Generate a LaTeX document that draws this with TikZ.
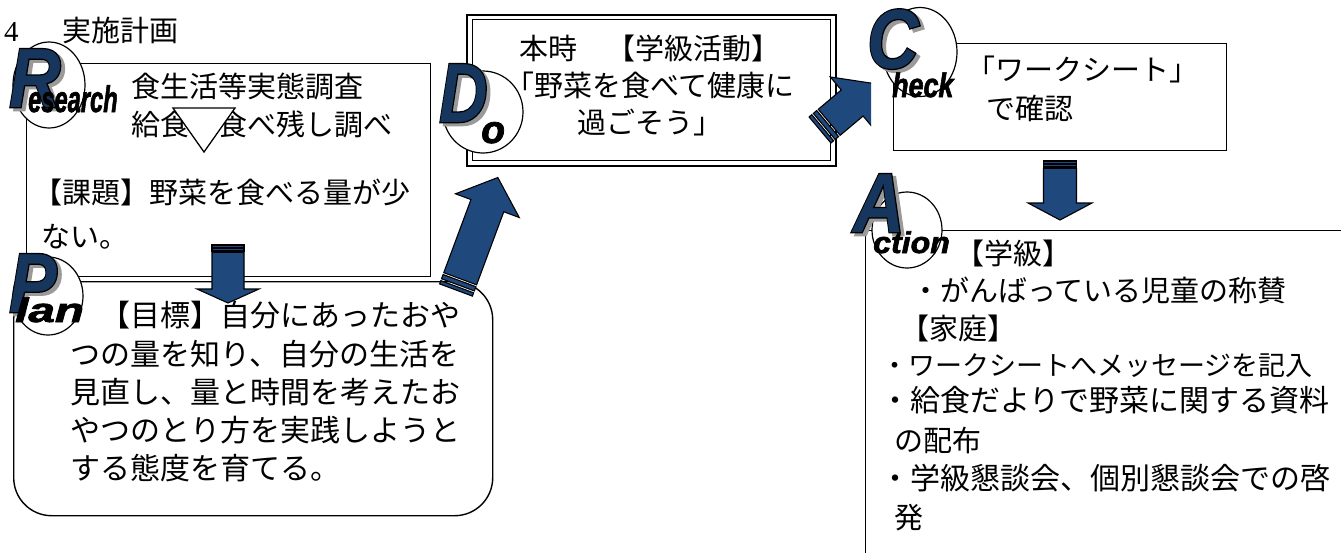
\documentclass[tikz,border=0pt]{standalone}
\usepackage{fontspec}
\usepackage{graphicx}
\usetikzlibrary{shapes.geometric}
\newfontfamily\jp{Noto Sans CJK JP}
\newfontfamily\digitserif{Liberation Serif}
\newfontfamily\latinbold{Liberation Sans}
\newfontfamily\latinstroke{Liberation Sans}[FakeBold=3]
\newfontfamily\latinheavy{Liberation Sans}[FakeBold=2]
\definecolor{arrowblue}{HTML}{1F497D}
\definecolor{letterblue}{HTML}{17365D}
\definecolor{shadowgray}{HTML}{9A9A9A}
\newcommand\pdcaletter[1]{%
  \makebox[0pt][l]{\hspace{4.5pt}\raisebox{-3pt}{\color{shadowgray}\latinstroke\bfseries\itshape #1}}%
  \makebox[0pt][l]{\color{black}\latinstroke\bfseries\itshape #1}%
  {\color{letterblue}\latinbold\bfseries\itshape #1}}
\newcommand\pdcaword[1]{{\color{black}\latinheavy\bfseries\itshape #1}}
% tail x, tail y, angle, length, head length, shaft half width, head half width, stripe scale
\newcommand\stripedarrow[8]{%
  \begin{scope}[shift={(#1,#2)},rotate=#3]
    \path[arrowpart] (0,-#6) rectangle (3.5*#8,#6);
    \path[arrowpart] (5.5*#8,-#6) rectangle (10*#8,#6);
    \path[arrowpart] (12*#8,-#6) -- (#4-#5,-#6) -- (#4-#5,-#7) -- (#4,0)
      -- (#4-#5,#7) -- (#4-#5,#6) -- (12*#8,#6) -- cycle;
  \end{scope}}
\tikzset{
  box/.style={draw=black, line width=1.4pt, fill=white, inner sep=0pt, anchor=north west},
  badge/.style={ellipse, draw=black, line width=1.2pt, fill=white, inner sep=0pt},
  arrowpart/.style={draw=black, line width=1.1pt, fill=arrowblue, line join=miter},
  jptext/.style={inner sep=0pt, anchor=base west, font=\jp\fontsize{29}{35}\selectfont},
  jpbig/.style={jptext, font=\jp\fontsize{30}{36}\selectfont},
  jpsmall/.style={jptext, font=\jp\fontsize{27}{32}\selectfont},
  jpcenter/.style={inner sep=0pt, anchor=base, font=\jp\fontsize{29}{35}\selectfont},
  bigletter/.style={inner sep=0pt, anchor=base west, font=\fontsize{84}{84}\selectfont},
  wordlabel/.style={inner sep=0pt, anchor=base west}
}
\begin{document}
\begin{tikzpicture}[x=1pt,y=-1pt]
\useasboundingbox (0,0) rectangle (1341,552);
\clip (0,0) rectangle (1341,552);
\fill[white] (0,0) rectangle (1341,552);

% boxes
\node[box, minimum width=404pt, minimum height=213pt] (rbox) at (26,63) {};
\node[box, rounded corners=38pt, minimum width=479pt, minimum height=234pt] (planbox) at (13,281) {};
\node[box, line width=1.8pt, minimum width=369pt, minimum height=151pt] (doouter) at (466,14) {};
\node[box, line width=1.2pt, minimum width=358pt, minimum height=141pt] (doinner) at (472,19) {};
\node[box, minimum width=333pt, minimum height=107pt] (checkbox) at (893,43) {};
\node[box, minimum width=500pt, minimum height=360pt] (actionbox) at (865,230) {};

% title
\node[jptext] (title) at (4,41) {{\digitserif 4}\hspace{44pt}実施計画};

% Research text
\node[jptext] (r1) at (131,97.5) {食生活等実態調査};
\node[jptext] (r2) at (131,135) {給食　食べ残し調べ};
\node[jptext] (r3) at (33,203.5) {【課題】野菜を食べる量が少};
\node[jptext] (r4) at (41,247) {ない。};
\draw[line width=1.3pt, fill=white] (173,108) -- (235,108) -- (204,152) -- cycle;

% Plan text
\node[jpbig] (p1) at (70,326) {　【目標】自分にあったおや};
\node[jpbig] (p2) at (70,365) {つの量を知り、自分の生活を};
\node[jpbig] (p3) at (70,403) {見直し、量と時間を考えたお};
\node[jpbig] (p4) at (70,441) {やつのとり方を実践しようと};
\node[jpbig] (p5) at (70,479) {する態度を育てる。};

% Do text
\node[jpcenter] (d1) at (650,59) {本時　【学級活動】};
\node[jpcenter] (d2) at (650,96) {「野菜を食べて健康に};
\node[jpcenter] (d3) at (650,133) {過ごそう」};

% Check text
\node[jptext] (c1) at (966,80) {「ワークシート」};
\node[jptext] (c2) at (986,119) {で確認};

% Action text
\node[jptext] (a1) at (955,264) {【学級】};
\node[jptext] (a2) at (911,301) {・がんばっている児童の称賛};
\node[jptext] (a3) at (900,339) {【家庭】};
\node[jpsmall] (a4) at (881,375) {・ワークシートへメッセージを記入};
\node[jpbig] (a5) at (880,411) {・給食だよりで野菜に関する資料};
\node[jptext] (a6) at (894,451) {の配布};
\node[jpbig] (a7) at (880,489) {・学級懇談会、個別懇談会での啓};
\node[jptext] (a8) at (894,528) {発};

% block arrows
\stripedarrow{228}{245}{-90}{58}{14}{16}{31}{0.6}
\stripedarrow{456}{290}{69.6}{120}{30}{17.5}{34}{1}
\begin{scope}
  \clip (0,0) rectangle (871,552);
  \stripedarrow{820}{130}{40}{72}{30}{17}{34}{1}
\end{scope}
\stripedarrow{1060}{161}{-90}{59}{17}{16.5}{32}{0.6}

% badges
\node[badge, minimum width=72pt, minimum height=86pt] (rbadge) at (49,85) {};
\node[badge, minimum width=70pt, minimum height=78pt] (pbadge) at (48,296) {};
\node[badge, minimum width=80pt, minimum height=82pt] (dbadge) at (483,112) {};
\node[badge, minimum width=74pt, minimum height=89pt] (cbadge) at (920,52) {};
\node[badge, minimum width=70pt, minimum height=76pt] (abadge) at (907,230) {};

% letters
\node[bigletter] (rletter) at (9,107) {\scalebox{0.85}[1]{\pdcaletter{R}}};
\node[wordlabel, font=\fontsize{37}{37}\selectfont] (rword) at (28,112) {\scalebox{0.64}[1]{\pdcaword{esearch}}};
\node[bigletter] (pletter) at (9,312) {\scalebox{0.85}[1]{\pdcaletter{P}}};
\node[wordlabel, font=\fontsize{34}{34}\selectfont] (pword) at (15,322) {\scalebox{1.4}[1]{\pdcaword{lan}}};
\node[bigletter] (dletter) at (439,122) {\scalebox{0.8}[1]{\pdcaletter{D}}};
\node[wordlabel, font=\fontsize{39}{39}\selectfont] (dword) at (481,143) {\pdcaword{o}};
\node[bigletter] (cletter) at (867,68) {\scalebox{0.85}[1]{\pdcaletter{C}}};
\node[wordlabel, font=\fontsize{34}{34}\selectfont] (cword) at (892,97) {\scalebox{0.79}[1]{\pdcaword{heck}}};
\node[bigletter] (aletter) at (853,232) {\scalebox{0.85}[1]{\pdcaletter{A}}};
\node[wordlabel, font=\fontsize{30}{30}\selectfont] (aword) at (873,253) {\scalebox{1.07}[1]{\pdcaword{ction}}};
\end{tikzpicture}
\end{document}
